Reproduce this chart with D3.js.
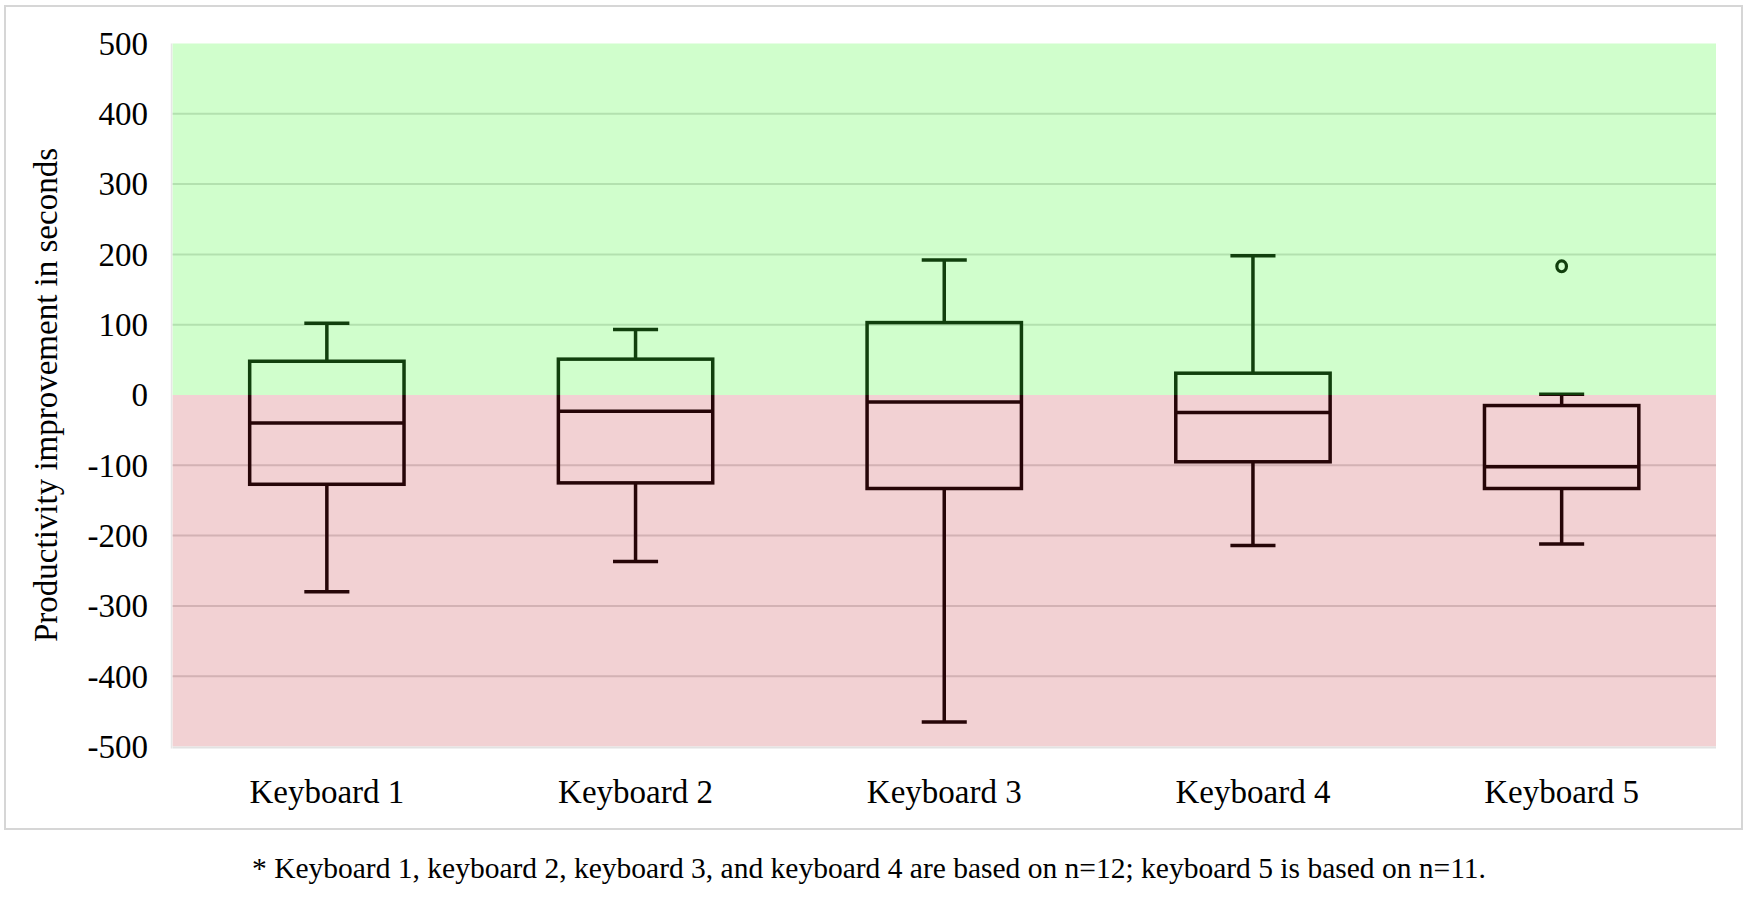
<!DOCTYPE html>
<html>
<head>
<meta charset="utf-8">
<script src="https://cdn.jsdelivr.net/npm/d3@7"></script>
<style>
  html, body { margin: 0; padding: 0; background: #ffffff; }
  svg { display: block; }
</style>
</head>
<body>
<svg id="chart" width="1748" height="902"></svg>
<script>
// ---- data ----
const categories = ["Keyboard 1", "Keyboard 2", "Keyboard 3", "Keyboard 4", "Keyboard 5"];
const mins    = [-280, -237, -465, -214, -212];
const q1s     = [-127, -125, -133,  -95, -133];
const medians = [ -40,  -23,  -10,  -25, -102];
const q3s     = [  48,   51,  103,   31,  -15];
const maxs    = [ 102,   93,  192,  198,    1];
const outliers = [[], [], [], [], [183]];
const yTicks = [500, 400, 300, 200, 100, 0, -100, -200, -300, -400, -500];
const yTitle = "Productivity improvement in seconds";
const footnote = "* Keyboard 1, keyboard 2, keyboard 3, and keyboard 4 are based on n=12; keyboard 5 is based on n=11.";

const boxes = categories.map((c, i) => ({
  cat: c, min: mins[i], q1: q1s[i], med: medians[i], q3: q3s[i], max: maxs[i], out: outliers[i]
}));

const FONT = '"Liberation Serif", "Times New Roman", Times, serif';

// ---- layout ----
const svg = d3.select("#chart");
const plot = { left: 172.5, right: 1716, top: 43.5, bottom: 746.5 };

const x = d3.scaleBand().domain(categories).range([plot.left, plot.right]).padding(0);
const y = d3.scaleLinear().domain([-500, 500]).range([plot.bottom, plot.top]);

// outer frame
svg.append("rect")
  .attr("x", 5).attr("y", 6).attr("width", 1737).attr("height", 823)
  .attr("fill", "#fff").attr("stroke", "#d6d6d6").attr("stroke-width", 2);

// gridlines
svg.append("g")
  .selectAll("line").data(yTicks.filter(d => d !== 500 && d !== -500 && d !== 0)).join("line")
  .attr("x1", plot.left).attr("x2", plot.right)
  .attr("y1", d => y(d)).attr("y2", d => y(d))
  .attr("stroke", "#d9d9d9").attr("stroke-width", 2);

// boxes (black), tinted by translucent overlays drawn on top
const bw = x.bandwidth() * 0.5;
const cw = x.bandwidth() * 0.146;
const g = svg.append("g").attr("stroke", "#000").attr("stroke-width", 3.5).attr("fill", "none");
const bx = g.selectAll("g.box").data(boxes).join("g").attr("class", "box")
  .attr("transform", d => `translate(${x(d.cat) + x.bandwidth() / 2},0)`);

bx.append("line").attr("x1", 0).attr("x2", 0).attr("y1", d => y(d.max)).attr("y2", d => y(d.q3));
bx.append("line").attr("x1", 0).attr("x2", 0).attr("y1", d => y(d.q1)).attr("y2", d => y(d.min));
bx.append("line").attr("x1", -cw / 2).attr("x2", cw / 2).attr("y1", d => y(d.max)).attr("y2", d => y(d.max));
bx.append("line").attr("x1", -cw / 2).attr("x2", cw / 2).attr("y1", d => y(d.min)).attr("y2", d => y(d.min));
bx.append("rect")
  .attr("x", -bw / 2).attr("width", bw)
  .attr("y", d => y(d.q3)).attr("height", d => y(d.q1) - y(d.q3));
bx.append("line").attr("x1", -bw / 2).attr("x2", bw / 2).attr("y1", d => y(d.med)).attr("y2", d => y(d.med));
bx.selectAll("ellipse").data(d => d.out).join("ellipse")
  .attr("cx", 0).attr("cy", d => y(d)).attr("rx", 4.8).attr("ry", 5.4).attr("stroke-width", 3.2);

// translucent overlays: green above zero, red below zero
svg.append("rect")
  .attr("x", plot.left).attr("width", plot.right - plot.left)
  .attr("y", y(500)).attr("height", y(0) - y(500))
  .attr("fill", "rgb(68,252,52)").attr("fill-opacity", 0.25);
svg.append("rect")
  .attr("x", plot.left).attr("width", plot.right - plot.left)
  .attr("y", y(0)).attr("height", y(-500) - y(0))
  .attr("fill", "rgb(190,25,35)").attr("fill-opacity", 0.2);

// faint plot edge lines
svg.append("line").attr("x1", plot.left).attr("x2", plot.right)
  .attr("y1", plot.bottom + 1).attr("y2", plot.bottom + 1)
  .attr("stroke", "#e2e2e2").attr("stroke-width", 2);
svg.append("line").attr("x1", plot.left - 1).attr("x2", plot.left - 1)
  .attr("y1", plot.top).attr("y2", plot.bottom + 2)
  .attr("stroke", "#e6e6e6").attr("stroke-width", 1.5);

// y axis tick labels
const yAxis = d3.axisLeft(y).tickValues(yTicks).tickSize(0).tickPadding(0).tickFormat(d => String(d));
const ya = svg.append("g").attr("transform", `translate(148,0)`).call(yAxis);
ya.attr("font-family", null).attr("font-size", null);
ya.select(".domain").remove();
ya.selectAll("text")
  .style("font-family", FONT)
  .style("font-size", "33px").attr("fill", "#000").attr("dy", "0.33em");

// x axis labels
const xAxis = d3.axisBottom(x).tickSize(0).tickPadding(0);
const xa = svg.append("g").attr("transform", `translate(0,${plot.bottom})`).call(xAxis);
xa.attr("font-family", null).attr("font-size", null);
xa.select(".domain").remove();
xa.selectAll("text")
  .style("font-family", FONT)
  .style("font-size", "33px").attr("fill", "#000").attr("y", 0).attr("dy", 0)
  .attr("transform", "translate(0,56.5)");

// y title
svg.append("text")
  .attr("transform", `translate(57,${(plot.top + plot.bottom) / 2}) rotate(-90)`)
  .attr("text-anchor", "middle")
  .style("font-family", FONT).style("font-size", "33px").attr("fill", "#000")
  .text(yTitle);

// footnote
svg.append("text")
  .attr("x", 869).attr("y", 878)
  .attr("text-anchor", "middle")
  .style("font-family", FONT).style("font-size", "29.5px").attr("fill", "#000")
  .text(footnote);
</script>
</body>
</html>
